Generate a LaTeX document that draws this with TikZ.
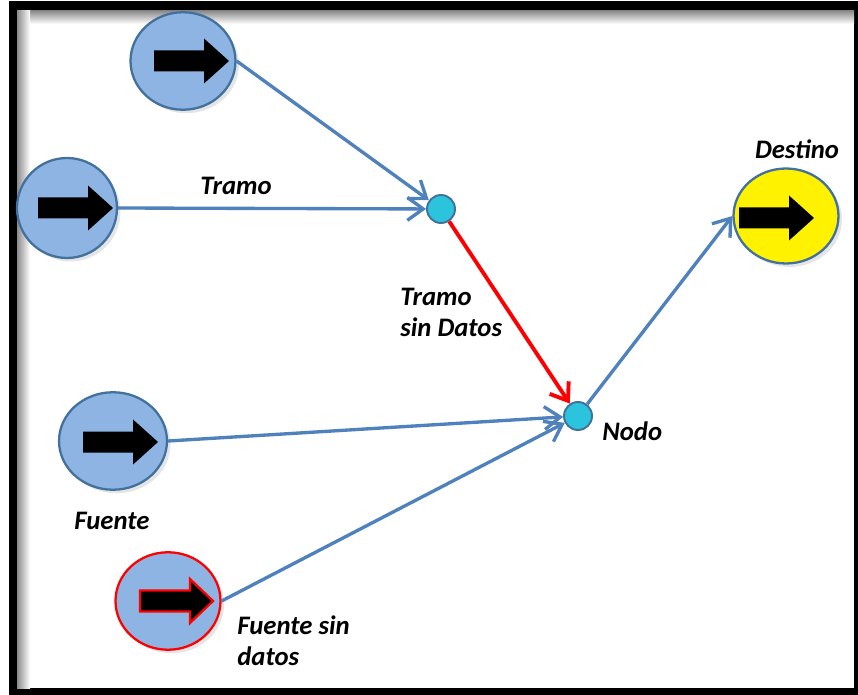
\documentclass[tikz,border=0pt]{standalone}
\usepackage{fontspec}
\setmainfont{Carlito}
\usetikzlibrary{arrows.meta,shapes.geometric,shadows}
\definecolor{lineblue}{RGB}{79,129,189}
\definecolor{ballblue}{RGB}{141,180,226}
\definecolor{rimblue}{RGB}{65,113,156}
\definecolor{junccyan}{RGB}{43,196,220}
\tikzset{
	ball/.style={ellipse, draw=rimblue, line width=1.3pt, fill=ballblue, inner sep=0pt,
		minimum width=2.1cm, minimum height=1.95cm,
		drop shadow={opacity=0.2, shadow xshift=2pt, shadow yshift=-2pt}},
	junc/.style={circle, draw=rimblue, line width=1.1pt, fill=junccyan, inner sep=0pt, minimum size=0.56cm},
	lbl/.style={inner sep=0pt, font=\fontsize{15.2}{17.6}\selectfont\bfseries\itshape},
	link/.style={->, lineblue, line width=1.9pt}
}
\begin{document}
\begin{tikzpicture}[x=0.02cm, y=-0.02cm, >={Straight Barb[length=9pt,width=13pt]}]
	\useasboundingbox (0,0) rectangle (858,695);
	% frame
	\fill[black] (9,1) rectangle (858,695);
	\fill[white] (17,11) rectangle (854,688);
	\shade[top color=black!45, bottom color=white] (17,11) rectangle (854,24);
	\shade[left color=black!45, right color=white] (17,11) rectangle (30,688);
	
	% sources
	\node[ball] (srcA) at (183,61) {};
	\node[ball, minimum width=2cm, minimum height=2cm] (srcB) at (67,208) {};
	\node[ball, minimum width=2.16cm] (fuente) at (113,441) {};
	\node[ball, draw=red] (fuenteSD) at (168,601) {};
	% target
	\node[ball, fill=yellow, minimum height=1.9cm] (destino) at (786,216) {};
	
	% block arrows
	\foreach \x/\y in {154/61, 38/208, 83/442, 739/218}{
		\fill (\x,\y-10.5) -- (\x+50,\y-10.5) -- (\x+50,\y-22.5) -- (\x+75,\y)
			-- (\x+50,\y+22.5) -- (\x+50,\y+10.5) -- (\x,\y+10.5) -- cycle;
	}
	\filldraw[draw=red, line width=1.3pt] (140,590.5) -- (190,590.5) -- (190,579) -- (213,601)
		-- (190,623) -- (190,611.5) -- (140,611.5) -- cycle;
	
	% junctions
	\node[junc] (junA) at (441,209) {};
	\node[junc] (nodo) at (578,416) {};
	
	% links
	\draw[link] (srcA.east) -- (junA);
	\draw[link] (srcB.east) -- (junA);
	\draw[link, red, line width=2.2pt] (junA) -- (nodo);
	\draw[link] (fuente.east) -- (nodo);
	\draw[link] (fuenteSD.east) -- (nodo);
	\draw[link] (nodo) -- (destino.west);
	
	% labels
	\node[lbl] (lblTramo) at (236,186) {Tramo};
	\node[lbl, anchor=west, align=left] (lblTramoSD) at (400,312) {Tramo\\sin Datos};
	\node[lbl, anchor=west] (lblNodo) at (602,431) {Nodo};
	\node[lbl] (lblDestino) at (797,149) {Destino};
	\node[lbl] (lblFuente) at (112,521) {Fuente};
	\node[lbl, anchor=west, align=left] (lblFuenteSD) at (237,641) {Fuente sin\\datos};
\end{tikzpicture}
\end{document}
